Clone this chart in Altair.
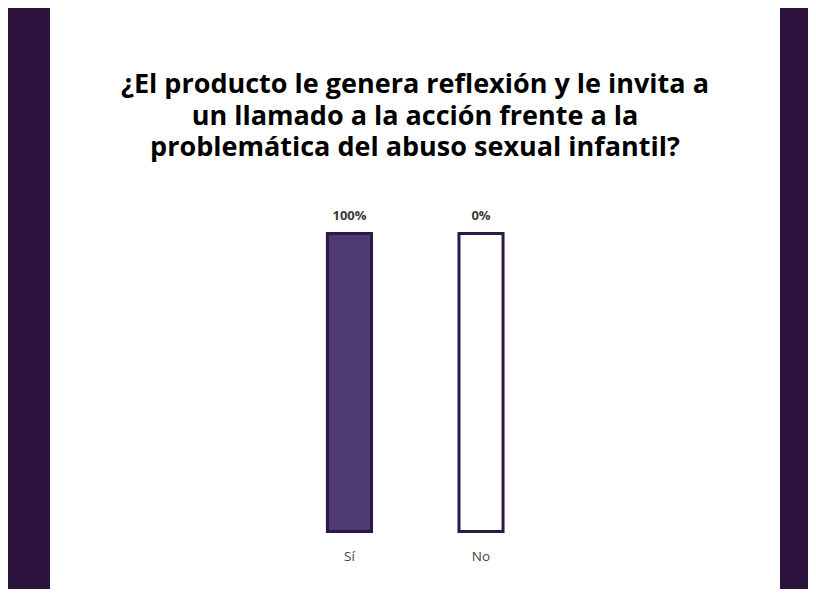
import altair as alt
import pandas as pd

categories = ["Sí", "No"]
values = [100, 0]
value_labels = ["100%", "0%"]
track = [100, 100]
title_lines = [
    "¿El producto le genera reflexión y le invita a",
    "un llamado a la acción frente a la",
    "problemática del abuso sexual infantil?",
]

DARK = "#2d1946"
FILL = "#503a73"
SIDE = "#2d143f"

df = pd.DataFrame({"cat": categories, "val": values, "lab": value_labels, "track": track})

xenc = alt.X("cat:N", sort=categories, axis=None,
             scale=alt.Scale(range=[211.7, 518.8], paddingInner=0.665, paddingOuter=0.5))
yscale = alt.Scale(domain=[0, 100], range=[523.5, 225.5])

base = alt.Chart(df)

tracks = base.mark_bar(fill="white", stroke=DARK, strokeWidth=3).encode(
    x=xenc, y=alt.Y("track:Q", scale=yscale, axis=None)
)
bars = base.mark_bar(fill=FILL, stroke=DARK, strokeWidth=3).encode(
    x=xenc, y=alt.Y("val:Q", scale=yscale, axis=None)
)
top_labels = base.mark_text(baseline="bottom", dy=-11, fontSize=13, fontWeight="bold",
                            color="#3a3a3a", font="Open Sans").encode(
    x=xenc, y=alt.Y("track:Q", scale=yscale, axis=None), text="lab:N"
)
cat_labels = base.mark_text(baseline="middle", dy=25, fontSize=13.5, fontWeight="normal",
                            color="#444444", font="Open Sans").encode(
    x=xenc, y=alt.YDatum(0, type="quantitative", scale=yscale, axis=None), text="cat:N"
)

chart = alt.layer(tracks, bars, top_labels, cat_labels).properties(
    width=730,
    height=581,
    autosize=alt.AutoSizeParams(type="none"),
    padding={"left": 42, "right": 28, "top": 0, "bottom": 0},
    background=SIDE,
    title=alt.TitleParams(
        text=title_lines, anchor="middle", frame="group", offset=-154,
        fontSize=27, font="Open Sans", fontWeight="bold", color="black", lineHeight=31.5,
    ),
).configure_view(fill="white", strokeWidth=0)

chart.save("out.html", embed_options={"renderer": "svg", "actions": False})
